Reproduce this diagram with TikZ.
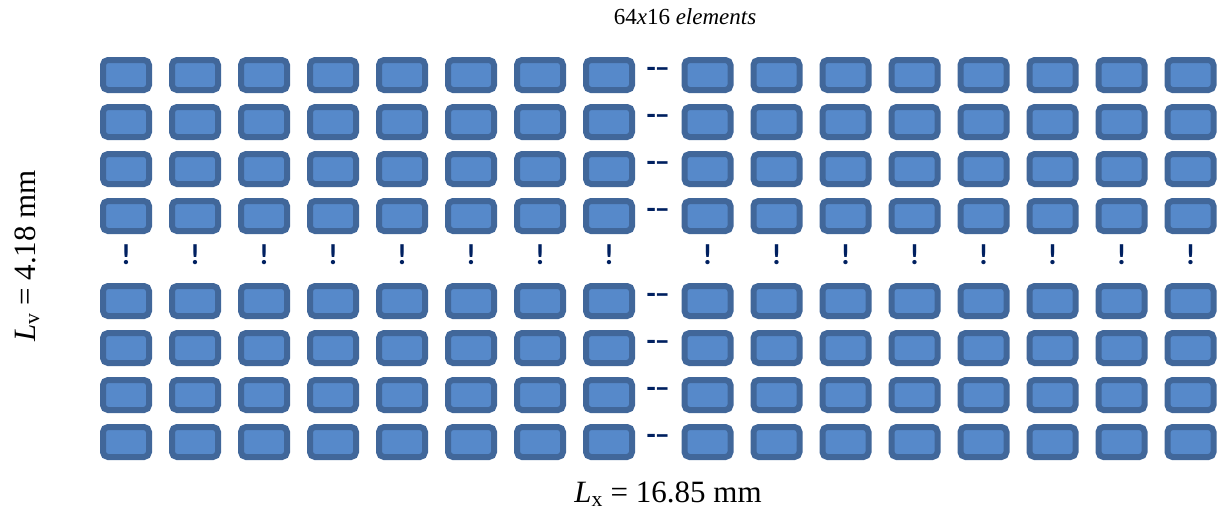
\documentclass[tikz,border=0pt]{standalone}
\usepackage{fontspec}
\setmainfont{Liberation Serif}
\newfontfamily\marksfont{Carlito}
\usetikzlibrary{calc}

\definecolor{elemfill}{HTML}{5689CA}
\definecolor{elemline}{HTML}{41679A}
\definecolor{navy}{HTML}{002060}

\tikzset{
	elem/.style={draw=elemline, fill=elemfill, line width=6pt, rounded corners=5pt,
		minimum width=46pt, minimum height=30pt, inner sep=0pt},
	bang/.style={text=navy, inner sep=0pt, font=\marksfont\bfseries\fontsize{29}{29}\selectfont},
	gapmark/.style={text=navy, inner sep=0pt, font=\marksfont\bfseries\fontsize{30}{30}\selectfont},
	dimlabel/.style={inner sep=0pt, font=\fontsize{31}{34}\selectfont}
}

\begin{document}
\begin{tikzpicture}[x=1pt, y=-1pt]
					\useasboundingbox (0,0) rectangle (1220,515);

					\def\dx{69};
					\def\dy{47};

					% array of elements, split into two groups of 8 columns
					\foreach \c in {1,...,16} {
						\pgfmathsetmacro{\xc}{\c<9 ? 126+\dx*(\c-1) : 707.5+\dx*(\c-9)}
						\foreach \r in {1,...,8} {
							\pgfmathsetmacro{\yc}{\r<5 ? 75+\dy*(\r-1) : 301+\dy*(\r-5)}
							\node[elem] (e-\r-\c) at (\xc,\yc) {};
						}
						\node[bang] (b-\c) at (\xc,255) {!};
					}

					\foreach \r in {1,...,8}
						\node[gapmark, yshift=3pt] (g-\r) at ($(e-\r-8.east)!0.5!(e-\r-9.west)$) {-\kern-1pt–};

					\node (title) at (685,17) {\fontsize{23}{26}\selectfont 64\textit{x}16 \textit{elements}};
					\node[dimlabel] (lx) at (668,494) {\textit{L}\textsubscript{x} = 16.85 mm};
					\node[dimlabel, rotate=90] (lv) at (27,256) {\textit{L}\textsubscript{v} = 4.18 mm};
				\end{tikzpicture}
\end{document}
